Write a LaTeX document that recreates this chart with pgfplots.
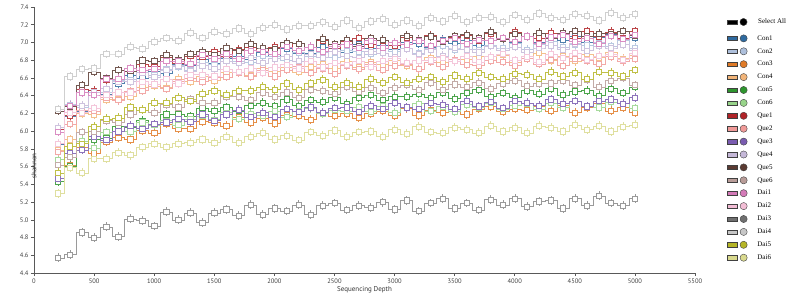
\documentclass[border=0pt]{standalone}
\usepackage{fontspec}
\setmainfont{Liberation Serif}
\newfontfamily\ticksfont{PT Sans}
\usepackage{pgfplots}
\pgfplotsset{compat=1.18}
\definecolor{cCon1}{HTML}{2F6A9F}
\definecolor{cCon2}{HTML}{AEC0DC}
\definecolor{cCon3}{HTML}{E07B28}
\definecolor{cCon4}{HTML}{F2B57A}
\definecolor{cCon5}{HTML}{2E952E}
\definecolor{cCon6}{HTML}{98D48A}
\definecolor{cQue1}{HTML}{B02428}
\definecolor{cQue2}{HTML}{F09A98}
\definecolor{cQue3}{HTML}{7A5CB0}
\definecolor{cQue4}{HTML}{C5B8D8}
\definecolor{cQue5}{HTML}{5A3A32}
\definecolor{cQue6}{HTML}{B89C98}
\definecolor{cDai1}{HTML}{D47AB8}
\definecolor{cDai2}{HTML}{F2BDD5}
\definecolor{cDai3}{HTML}{6F6F6F}
\definecolor{cDai4}{HTML}{C7C7C7}
\definecolor{cDai5}{HTML}{B5B527}
\definecolor{cDai6}{HTML}{D9D98E}
\definecolor{cDai3line}{HTML}{9A9A9A}
\pgfplotsset{sertwo/.style 2 args={color=#2, line width=0.42pt, const plot mark mid, mark=square*, mark size=2.6pt,
  mark options={fill=white, line width=0.42pt, draw=#2},
  error bars/.cd, y dir=both, y fixed=0.05, error mark=none,
  /pgfplots/.cd,
  legend image code/.code={\draw[draw=black!75,fill=#1,line width=0.4pt] (0pt,-2.2pt) rectangle (10pt,2.2pt);
    \draw[draw=black!75,fill=#1,line width=0.4pt] (16.5pt,0pt) circle (3.6pt);}},
  ser/.style={sertwo={#1}{#1!85!white}}}
\begin{document}
\begin{tikzpicture}
\begin{axis}[
  scale only axis, width=661pt, height=266pt,
  xmin=0, xmax=5500, ymin=4.4, ymax=7.4,
  axis lines=left,
  axis line style={draw=black!65, line width=0.8pt, -},
  xtick={0,500,1000,1500,2000,2500,3000,3500,4000,4500,5000,5500},
  ytick={4.4,4.6,4.8,5.0,5.2,5.4,5.6,5.8,6.0,6.2,6.4,6.6,6.8,7.0,7.2,7.4},
  tick style={draw=black!65, line width=0.6pt},
  tick align=outside, major tick length=3pt,
  /pgf/number format/assume math mode=true,
  scaled x ticks=false,
  xticklabel={\pgfmathprintnumber[fixed,precision=0,set thousands separator={}]{\tick}},
  yticklabel={\pgfmathprintnumber[fixed,fixed zerofill,precision=1]{\tick}},
  tick label style={font=\ticksfont\fontsize{6.5}{7}\selectfont, text=black!75},
  xticklabel style={yshift=1pt},
  yticklabel style={xshift=1pt},
  xlabel={Sequencing Depth}, ylabel={shannon},
  every axis x label/.style={at={(axis description cs:0.5,0)}, anchor=center, yshift=-17pt, font=\ticksfont\fontsize{7}{8}\selectfont, text=black!80},
  every axis y label/.style={at={(axis description cs:0,0.5)}, rotate=90, anchor=center, xshift=-26pt, font=\ticksfont\fontsize{7}{8}\selectfont, text=black!80},
  legend style={at={(1.048,0.897)}, anchor=north west, draw=none, fill=none, inner sep=0pt,
    font=\fontsize{7}{8}\selectfont, row sep=5.3pt, column sep=10pt,
    nodes={inner sep=0pt, text height=5pt, text depth=1.5pt}},
  legend cell align=left,
]
\coordinate (bl) at (rel axis cs:0,0);
\addplot[ser=cCon1] coordinates {(200,5.85)(300,6.17)(400,6.23)(500,6.46)(600,6.42)(700,6.54)(800,6.63)(900,6.60)(1000,6.68)(1100,6.65)(1200,6.76)(1300,6.74)(1400,6.81)(1500,6.77)(1600,6.82)(1700,6.85)(1800,6.81)(1900,6.89)(2000,6.85)(2100,6.93)(2200,6.88)(2300,6.88)(2400,6.95)(2500,6.93)(2600,6.89)(2700,6.98)(2800,6.93)(2900,6.97)(3000,6.92)(3100,7.00)(3200,6.99)(3300,6.95)(3400,7.03)(3500,6.99)(3600,7.02)(3700,6.97)(3800,7.02)(3900,7.05)(4000,7.00)(4100,7.07)(4200,7.00)(4300,7.05)(4400,7.03)(4500,7.07)(4600,7.00)(4700,7.06)(4800,7.09)(4900,7.03)(5000,7.06)};
\addlegendentry{Con1}
\addplot[ser=cCon2] coordinates {(200,6.02)(300,6.30)(400,6.27)(500,6.44)(600,6.44)(700,6.57)(800,6.58)(900,6.67)(1000,6.63)(1100,6.70)(1200,6.73)(1300,6.69)(1400,6.78)(1500,6.75)(1600,6.83)(1700,6.79)(1800,6.78)(1900,6.85)(2000,6.84)(2100,6.80)(2200,6.89)(2300,6.84)(2400,6.89)(2500,6.83)(2600,6.91)(2700,6.90)(2800,6.87)(2900,6.94)(3000,6.90)(3100,6.94)(3200,6.88)(3300,6.94)(3400,6.96)(3500,6.92)(3600,6.99)(3700,6.92)(3800,6.97)(3900,6.94)(4000,6.99)(4100,6.92)(4200,6.98)(4300,7.01)(4400,6.95)(4500,6.98)(4600,6.97)(4700,7.00)(4800,6.96)(4900,7.02)(5000,6.94)};
\addlegendentry{Con2}
\addplot[ser=cCon3] coordinates {(200,5.52)(300,5.62)(400,5.82)(500,5.75)(600,5.88)(700,5.93)(800,5.91)(900,6.01)(1000,5.98)(1100,6.08)(1200,6.03)(1300,6.03)(1400,6.11)(1500,6.10)(1600,6.06)(1700,6.16)(1800,6.10)(1900,6.15)(2000,6.09)(2100,6.18)(2200,6.17)(2300,6.13)(2400,6.21)(2500,6.17)(2600,6.20)(2700,6.15)(2800,6.20)(2900,6.23)(3000,6.18)(3100,6.26)(3200,6.18)(3300,6.24)(3400,6.21)(3500,6.25)(3600,6.19)(3700,6.25)(3800,6.28)(3900,6.22)(4000,6.25)(4100,6.24)(4200,6.28)(4300,6.23)(4400,6.29)(4500,6.21)(4600,6.27)(4700,6.31)(4800,6.23)(4900,6.27)(5000,6.21)};
\addlegendentry{Con3}
\addplot[ser=cCon4] coordinates {(200,5.79)(300,5.91)(400,6.20)(500,6.19)(600,6.36)(700,6.36)(800,6.39)(900,6.50)(1000,6.51)(1100,6.49)(1200,6.59)(1300,6.56)(1400,6.62)(1500,6.57)(1600,6.66)(1700,6.66)(1800,6.63)(1900,6.71)(2000,6.68)(2100,6.72)(2200,6.67)(2300,6.73)(2400,6.76)(2500,6.71)(2600,6.79)(2700,6.72)(2800,6.78)(2900,6.75)(3000,6.80)(3100,6.74)(3200,6.80)(3300,6.83)(3400,6.78)(3500,6.81)(3600,6.81)(3700,6.84)(3800,6.80)(3900,6.86)(4000,6.78)(4100,6.85)(4200,6.88)(4300,6.80)(4400,6.85)(4500,6.79)(4600,6.87)(4700,6.83)(4800,6.89)(4900,6.82)(5000,6.86)};
\addlegendentry{Con4}
\addplot[ser=cCon5] coordinates {(200,5.43)(300,5.61)(400,5.86)(500,5.91)(600,5.92)(700,6.05)(800,6.04)(900,6.12)(1000,6.08)(1100,6.19)(1200,6.19)(1300,6.17)(1400,6.26)(1500,6.23)(1600,6.27)(1700,6.23)(1800,6.29)(1900,6.32)(2000,6.28)(2100,6.36)(2200,6.29)(2300,6.35)(2400,6.33)(2500,6.38)(2600,6.31)(2700,6.38)(2800,6.41)(2900,6.35)(3000,6.39)(3100,6.39)(3200,6.42)(3300,6.38)(3400,6.44)(3500,6.37)(3600,6.43)(3700,6.47)(3800,6.39)(3900,6.43)(4000,6.38)(4100,6.46)(4200,6.42)(4300,6.48)(4400,6.41)(4500,6.45)(4600,6.46)(4700,6.40)(4800,6.48)(4900,6.43)(5000,6.50)};
\addlegendentry{Con5}
\addplot[ser=cCon6] coordinates {(200,5.68)(300,5.71)(400,5.89)(500,5.81)(600,5.99)(700,6.00)(800,6.00)(900,6.10)(1000,6.07)(1100,6.12)(1200,6.07)(1300,6.14)(1400,6.17)(1500,6.13)(1600,6.21)(1700,6.14)(1800,6.20)(1900,6.18)(2000,6.23)(2100,6.16)(2200,6.23)(2300,6.26)(2400,6.20)(2500,6.24)(2600,6.23)(2700,6.27)(2800,6.22)(2900,6.28)(3000,6.21)(3100,6.27)(3200,6.31)(3300,6.23)(3400,6.28)(3500,6.22)(3600,6.30)(3700,6.27)(3800,6.32)(3900,6.25)(4000,6.29)(4100,6.31)(4200,6.25)(4300,6.32)(4400,6.27)(4500,6.34)(4600,6.28)(4700,6.27)(4800,6.33)(4900,6.31)(5000,6.26)};
\addlegendentry{Con6}
\addplot[ser=cQue1] coordinates {(200,6.02)(300,6.18)(400,6.47)(500,6.46)(600,6.58)(700,6.58)(800,6.68)(900,6.75)(1000,6.73)(1100,6.83)(1200,6.77)(1300,6.85)(1400,6.84)(1500,6.90)(1600,6.84)(1700,6.92)(1800,6.95)(1900,6.90)(2000,6.95)(2100,6.95)(2200,6.99)(2300,6.95)(2400,7.02)(2500,6.94)(2600,7.01)(2700,7.05)(2800,6.98)(2900,7.02)(3000,6.97)(3100,7.06)(3200,7.02)(3300,7.08)(3400,7.02)(3500,7.06)(3600,7.08)(3700,7.02)(3800,7.10)(3900,7.05)(4000,7.12)(4100,7.07)(4200,7.05)(4300,7.11)(4400,7.10)(4500,7.05)(4600,7.13)(4700,7.07)(4800,7.12)(4900,7.05)(5000,7.13)};
\addlegendentry{Que1}
\addplot[ser=cQue2] coordinates {(200,5.77)(300,6.08)(400,6.24)(500,6.23)(600,6.38)(700,6.35)(800,6.45)(900,6.46)(1000,6.53)(1100,6.48)(1200,6.56)(1300,6.60)(1400,6.56)(1500,6.61)(1600,6.61)(1700,6.66)(1800,6.62)(1900,6.69)(2000,6.62)(2100,6.69)(2200,6.73)(2300,6.66)(2400,6.71)(2500,6.65)(2600,6.74)(2700,6.70)(2800,6.76)(2900,6.69)(3000,6.74)(3100,6.76)(3200,6.70)(3300,6.78)(3400,6.73)(3500,6.81)(3600,6.75)(3700,6.74)(3800,6.80)(3900,6.78)(4000,6.74)(4100,6.82)(4200,6.76)(4300,6.81)(4400,6.74)(4500,6.82)(4600,6.80)(4700,6.76)(4800,6.84)(4900,6.79)(5000,6.82)};
\addlegendentry{Que2}
\addplot[ser=cQue3] coordinates {(200,5.47)(300,5.75)(400,5.79)(500,5.94)(600,5.90)(700,6.00)(800,6.06)(900,6.03)(1000,6.08)(1100,6.10)(1200,6.14)(1300,6.11)(1400,6.19)(1500,6.12)(1600,6.19)(1700,6.24)(1800,6.16)(1900,6.21)(2000,6.16)(2100,6.25)(2200,6.22)(2300,6.27)(2400,6.21)(2500,6.26)(2600,6.27)(2700,6.22)(2800,6.29)(2900,6.25)(3000,6.32)(3100,6.27)(3200,6.25)(3300,6.32)(3400,6.30)(3500,6.25)(3600,6.34)(3700,6.28)(3800,6.33)(3900,6.26)(4000,6.34)(4100,6.32)(4200,6.29)(4300,6.36)(4400,6.31)(4500,6.34)(4600,6.28)(4700,6.34)(4800,6.36)(4900,6.31)(5000,6.38)};
\addlegendentry{Que3}
\addplot[ser=cQue4] coordinates {(200,6.04)(300,6.29)(400,6.29)(500,6.44)(600,6.48)(700,6.56)(800,6.56)(900,6.66)(1000,6.61)(1100,6.69)(1200,6.74)(1300,6.68)(1400,6.74)(1500,6.70)(1600,6.79)(1700,6.77)(1800,6.83)(1900,6.77)(2000,6.82)(2100,6.84)(2200,6.79)(2300,6.87)(2400,6.83)(2500,6.90)(2600,6.85)(2700,6.83)(2800,6.90)(2900,6.88)(3000,6.84)(3100,6.93)(3200,6.87)(3300,6.92)(3400,6.85)(3500,6.94)(3600,6.92)(3700,6.89)(3800,6.96)(3900,6.91)(4000,6.95)(4100,6.89)(4200,6.94)(4300,6.97)(4400,6.92)(4500,6.99)(4600,6.91)(4700,6.96)(4800,6.94)(4900,6.98)(5000,6.91)};
\addlegendentry{Que4}
\addplot[ser=cQue5] coordinates {(200,6.23)(300,6.28)(400,6.52)(500,6.67)(600,6.60)(700,6.69)(800,6.68)(900,6.80)(1000,6.79)(1100,6.86)(1200,6.81)(1300,6.87)(1400,6.90)(1500,6.86)(1600,6.94)(1700,6.91)(1800,6.99)(1900,6.94)(2000,6.93)(2100,7.00)(2200,6.99)(2300,6.95)(2400,7.04)(2500,6.98)(2600,7.03)(2700,6.96)(2800,7.05)(2900,7.03)(3000,7.00)(3100,7.08)(3200,7.03)(3300,7.07)(3400,7.01)(3500,7.07)(3600,7.09)(3700,7.05)(3800,7.12)(3900,7.04)(4000,7.10)(4100,7.07)(4200,7.11)(4300,7.05)(4400,7.11)(4500,7.13)(4600,7.07)(4700,7.10)(4800,7.10)(4900,7.13)(5000,7.08)};
\addlegendentry{Que5}
\addplot[ser=cQue6] coordinates {(200,5.62)(300,5.71)(400,5.99)(500,6.00)(600,6.12)(700,6.10)(800,6.19)(900,6.24)(1000,6.21)(1100,6.30)(1200,6.27)(1300,6.36)(1400,6.32)(1500,6.32)(1600,6.39)(1700,6.39)(1800,6.35)(1900,6.44)(2000,6.39)(2100,6.44)(2200,6.38)(2300,6.47)(2400,6.46)(2500,6.42)(2600,6.50)(2700,6.45)(2800,6.49)(2900,6.43)(3000,6.49)(3100,6.52)(3200,6.47)(3300,6.55)(3400,6.47)(3500,6.53)(3600,6.50)(3700,6.55)(3800,6.48)(3900,6.54)(4000,6.57)(4100,6.51)(4200,6.54)(4300,6.54)(4400,6.57)(4500,6.52)(4600,6.58)(4700,6.50)(4800,6.57)(4900,6.60)(5000,6.52)};
\addlegendentry{Que6}
\addplot[ser=cDai1] coordinates {(200,5.99)(300,6.29)(400,6.44)(500,6.41)(600,6.59)(700,6.59)(800,6.71)(900,6.69)(1000,6.70)(1100,6.79)(1200,6.79)(1300,6.76)(1400,6.86)(1500,6.82)(1600,6.87)(1700,6.82)(1800,6.91)(1900,6.90)(2000,6.87)(2100,6.95)(2200,6.91)(2300,6.95)(2400,6.90)(2500,6.96)(2600,6.98)(2700,6.94)(2800,7.02)(2900,6.94)(3000,7.00)(3100,6.98)(3200,7.02)(3300,6.96)(3400,7.02)(3500,7.05)(3600,6.99)(3700,7.03)(3800,7.02)(3900,7.05)(4000,7.01)(4100,7.07)(4200,6.99)(4300,7.06)(4400,7.09)(4500,7.01)(4600,7.05)(4700,6.99)(4800,7.08)(4900,7.04)(5000,7.09)};
\addlegendentry{Dai1}
\addplot[ser=cDai2] coordinates {(200,5.86)(300,6.21)(400,6.21)(500,6.26)(600,6.41)(700,6.44)(800,6.44)(900,6.56)(1000,6.53)(1100,6.59)(1200,6.54)(1300,6.64)(1400,6.64)(1500,6.62)(1600,6.70)(1700,6.67)(1800,6.71)(1900,6.66)(2000,6.72)(2100,6.75)(2200,6.71)(2300,6.79)(2400,6.72)(2500,6.77)(2600,6.75)(2700,6.79)(2800,6.73)(2900,6.79)(3000,6.82)(3100,6.77)(3200,6.80)(3300,6.80)(3400,6.83)(3500,6.79)(3600,6.85)(3700,6.78)(3800,6.84)(3900,6.87)(4000,6.80)(4100,6.84)(4200,6.78)(4300,6.87)(4400,6.83)(4500,6.88)(4600,6.81)(4700,6.85)(4800,6.87)(4900,6.81)(5000,6.88)};
\addlegendentry{Dai2}
\addplot[sertwo={cDai3}{cDai3line}] coordinates {(200,4.57)(300,4.61)(400,4.86)(500,4.80)(600,4.92)(700,4.81)(800,5.01)(900,4.99)(1000,4.93)(1100,5.09)(1200,5.00)(1300,5.08)(1400,4.97)(1500,5.08)(1600,5.12)(1700,5.05)(1800,5.17)(1900,5.06)(2000,5.13)(2100,5.10)(2200,5.17)(2300,5.06)(2400,5.16)(2500,5.19)(2600,5.11)(2700,5.16)(2800,5.14)(2900,5.20)(3000,5.12)(3100,5.22)(3200,5.10)(3300,5.19)(3400,5.24)(3500,5.13)(3600,5.19)(3700,5.11)(3800,5.23)(3900,5.17)(4000,5.24)(4100,5.15)(4200,5.21)(4300,5.22)(4400,5.13)(4500,5.24)(4600,5.16)(4700,5.27)(4800,5.19)(4900,5.16)(5000,5.24)};
\addlegendentry{Dai3}
\addplot[ser=cDai4] coordinates {(200,6.25)(300,6.62)(400,6.70)(500,6.71)(600,6.87)(700,6.87)(800,6.95)(900,6.93)(1000,7.01)(1100,7.05)(1200,7.02)(1300,7.11)(1400,7.05)(1500,7.12)(1600,7.10)(1700,7.16)(1800,7.10)(1900,7.17)(2000,7.20)(2100,7.15)(2200,7.19)(2300,7.19)(2400,7.23)(2500,7.18)(2600,7.25)(2700,7.17)(2800,7.24)(2900,7.27)(3000,7.20)(3100,7.25)(3200,7.19)(3300,7.28)(3400,7.24)(3500,7.30)(3600,7.23)(3700,7.28)(3800,7.29)(3900,7.23)(4000,7.31)(4100,7.26)(4200,7.33)(4300,7.28)(4400,7.26)(4500,7.32)(4600,7.30)(4700,7.25)(4800,7.34)(4900,7.28)(5000,7.32)};
\addlegendentry{Dai4}
\addplot[ser=cDai5] coordinates {(200,5.53)(300,5.83)(400,5.86)(500,6.05)(600,6.14)(700,6.15)(800,6.27)(900,6.24)(1000,6.32)(1100,6.32)(1200,6.38)(1300,6.34)(1400,6.42)(1500,6.46)(1600,6.41)(1700,6.46)(1800,6.46)(1900,6.50)(2000,6.47)(2100,6.54)(2200,6.47)(2300,6.54)(2400,6.58)(2500,6.50)(2600,6.55)(2700,6.50)(2800,6.59)(2900,6.55)(3000,6.61)(3100,6.55)(3200,6.59)(3300,6.61)(3400,6.56)(3500,6.63)(3600,6.59)(3700,6.66)(3800,6.61)(3900,6.59)(4000,6.65)(4100,6.64)(4200,6.59)(4300,6.67)(4400,6.62)(4500,6.66)(4600,6.59)(4700,6.67)(4800,6.66)(4900,6.62)(5000,6.69)};
\addlegendentry{Dai5}
\addplot[ser=cDai6] coordinates {(200,5.30)(300,5.59)(400,5.53)(500,5.69)(600,5.69)(700,5.76)(800,5.73)(900,5.82)(1000,5.86)(1100,5.82)(1200,5.86)(1300,5.87)(1400,5.91)(1500,5.87)(1600,5.94)(1700,5.87)(1800,5.94)(1900,5.98)(2000,5.91)(2100,5.95)(2200,5.90)(2300,5.99)(2400,5.95)(2500,6.01)(2600,5.94)(2700,5.99)(2800,6.00)(2900,5.94)(3000,6.02)(3100,5.97)(3200,6.05)(3300,5.99)(3400,5.98)(3500,6.04)(3600,6.02)(3700,5.98)(3800,6.06)(3900,6.00)(4000,6.04)(4100,5.98)(4200,6.06)(4300,6.04)(4400,6.00)(4500,6.07)(4600,6.02)(4700,6.06)(4800,6.00)(4900,6.05)(5000,6.07)};
\addlegendentry{Dai6}
\end{axis}
\draw[draw=black!75,fill=black,line width=0.4pt] ([shift={(693pt,248.8pt)}]bl) rectangle ([shift={(703pt,253.2pt)}]bl);
\draw[draw=black!75,fill=black,line width=0.4pt] ([shift={(709.5pt,251pt)}]bl) circle (3.6pt);
\node[anchor=west, inner sep=0pt, font=\fontsize{7}{8}\selectfont, text height=5pt, text depth=1.5pt] at ([shift={(724pt,251pt)}]bl) {Select All};
\pgfresetboundingbox
\path[use as bounding box] ([shift={(-34pt,-25pt)}]bl) rectangle ([shift={(757pt,273pt)}]bl);
\end{tikzpicture}
\end{document}
